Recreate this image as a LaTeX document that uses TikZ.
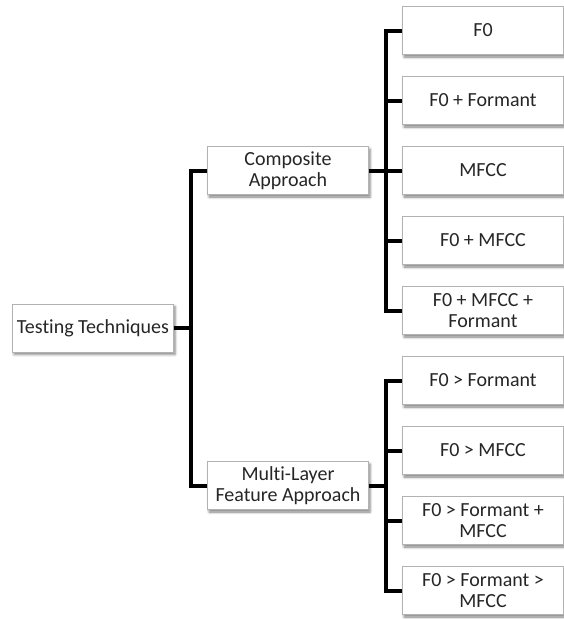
\documentclass[tikz,border=0pt]{standalone}
\usepackage{fontspec}
\setmainfont{Carlito}[Ligatures=NoCommon]
\usetikzlibrary{shadows.blur}

\begin{document}
\begin{tikzpicture}[x=1pt,y=1pt,grow'=right,level distance=195pt,
  level 1/.style={sibling distance=315pt},
  level 2/.style={sibling distance=70pt},
  edge from parent/.style={draw,black,line width=4pt},
  edge from parent path={(\tikzparentnode.east) -- ++(17,0) |- (\tikzchildnode.west)}]
\tikzstyle{every node}=[rectangle,draw=gray!60,line width=0.8pt,fill=white,
  minimum width=161pt,minimum height=48pt,align=center,text=black!85,
  font=\fontsize{20}{21}\selectfont,
  blur shadow={shadow xshift=1.5pt,shadow yshift=-2.5pt,shadow blur radius=2.5pt,shadow opacity=50}]
\useasboundingbox (0,0) rectangle (564,-619);
\node (root) at (93,-328) {Testing Techniques}
  child {node (comp) {Composite\\Approach}
    child {node (f0) {F0}}
    child {node (f0form) {F0 + Formant}}
    child {node (mfcc) {MFCC}}
    child {node (f0mfcc) {F0 + MFCC}}
    child {node (f0mfccform) {F0 + MFCC +\\Formant}}
  }
  child {node (multi) {Multi-Layer\\Feature Approach}
    child {node (mlform) {F0 > Formant}}
    child {node (mlmfcc) {F0 > MFCC}}
    child {node (mlformmfcc) {F0 > Formant +\\MFCC}}
    child {node (mlformthenmfcc) {F0 > Formant >\\MFCC}}
  };
\end{tikzpicture}
\end{document}
